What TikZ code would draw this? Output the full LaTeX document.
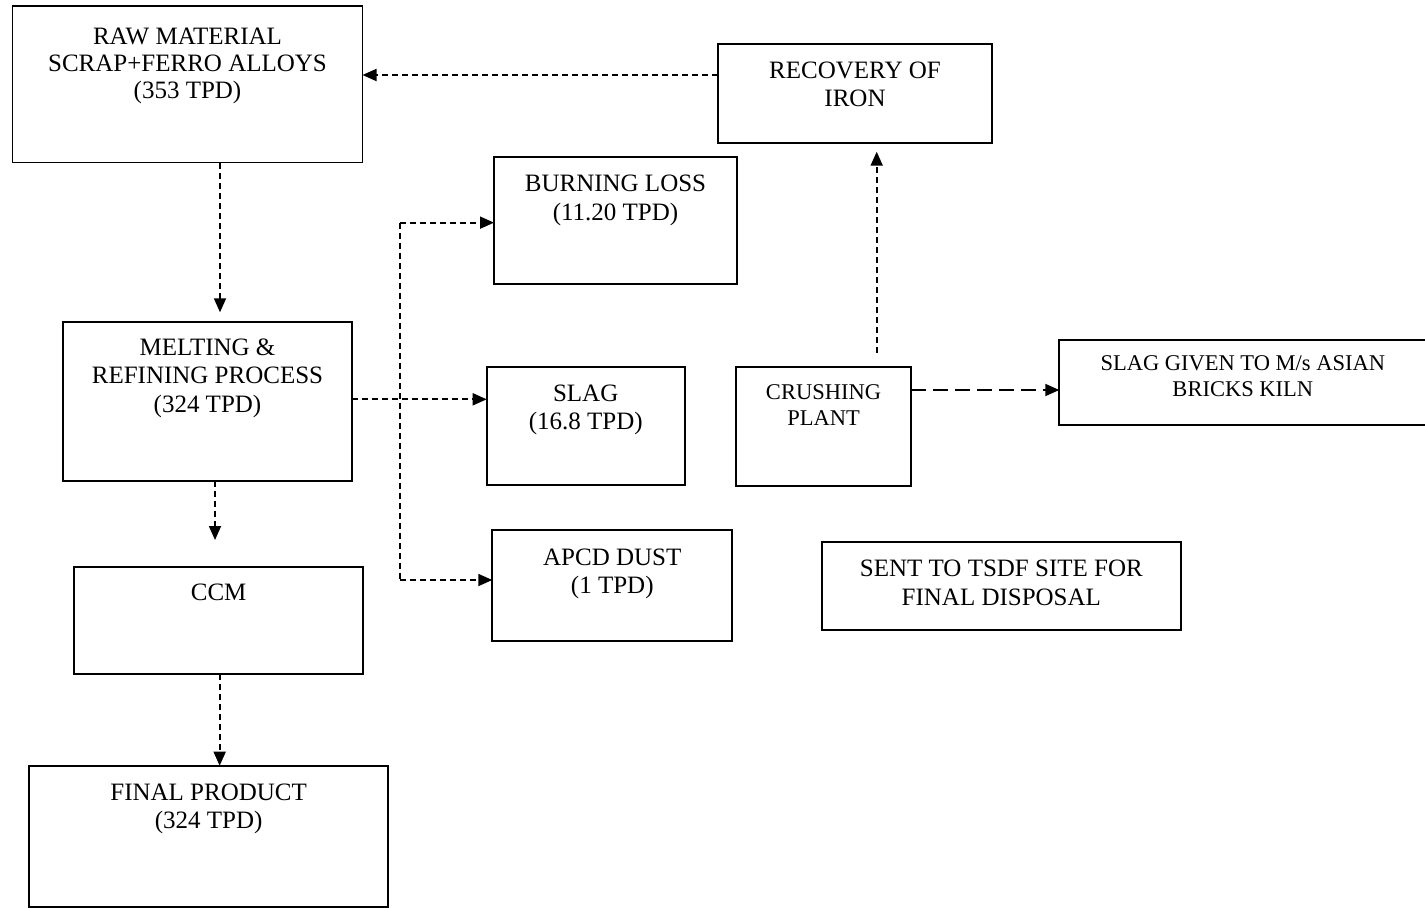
\documentclass[tikz,border=0pt]{standalone}
\usepackage{fontspec}
\setmainfont{Liberation Serif}
\usetikzlibrary{arrows.meta,calc}
\tikzset{
  box/.style={draw=black, line width=1.9pt, rectangle, inner sep=0pt, outer sep=0pt, anchor=north west},
  txt/.style={align=center, inner sep=0pt, anchor=base, font=\fontsize{25}{28.5}\selectfont},
  txtsm/.style={align=center, inner sep=0pt, anchor=base, font=\fontsize{22.5}{26}\selectfont},
  sd/.style={line width=1.8pt, dash pattern=on 6pt off 4pt},
  ld/.style={line width=1.8pt, dash pattern=on 15pt off 7pt},
  arr/.style={-{Triangle[length=14pt,width=12pt]}}
}
\begin{document}
\begin{tikzpicture}[x=1pt,y=-1pt]
\useasboundingbox (0,0) rectangle (1425,908);
% boxes
\node[box, minimum width=350pt, minimum height=156.5pt] (raw) at (12.5,6) {};
\node[box, minimum width=274.6pt, minimum height=99pt] (rec) at (717.7,44.3) {};
\node[box, minimum width=243pt, minimum height=127.3pt] (burn) at (494,157) {};
\node[box, minimum width=198pt, minimum height=117.7pt] (slag) at (486.7,367.3) {};
\node[box, minimum width=240pt, minimum height=111pt] (apcd) at (492.3,530) {};
\node[box, minimum width=289.6pt, minimum height=159pt] (melt) at (62.7,322) {};
\node[box, minimum width=289.3pt, minimum height=107.6pt] (ccm) at (74,566.7) {};
\node[box, minimum width=359.3pt, minimum height=141.5pt] (final) at (29,765.7) {};
\node[box, minimum width=175pt, minimum height=118.4pt] (crush) at (736,367.3) {};
\node[box, minimum width=367pt, minimum height=85pt] (give) at (1059.3,340) {};
\node[box, minimum width=359.3pt, minimum height=87.7pt] (sent) at (821.7,542.3) {};
% texts (base anchor = baseline of the last line)
\node[txt, font=\fontsize{25}{27}\selectfont] (rawt) at ([yshift=-92.5pt]raw.north) {RAW MATERIAL\\SCRAP+FERRO ALLOYS\\(353 TPD)};
\node[txt] (rect) at ([yshift=-62.2pt]rec.north) {RECOVERY OF\\IRON};
\node[txt] (burnt) at ([yshift=-63pt]burn.north) {BURNING LOSS\\(11.20 TPD)};
\node[txt] (slagt) at ([yshift=-62.2pt]slag.north) {SLAG\\(16.8 TPD)};
\node[txt] (apcdt) at ([yshift=-63.5pt]apcd.north) {APCD DUST\\(1 TPD)};
\node[txt] (meltt) at ([yshift=-90pt]melt.north) {MELTING \&\\REFINING PROCESS\\(324 TPD)};
\node[txt] (ccmt) at ([yshift=-33.3pt]ccm.north) {CCM};
\node[txt] (finalt) at ([yshift=-62.8pt]final.north) {FINAL PRODUCT\\(324 TPD)};
\node[txtsm] (crusht) at ([yshift=-57.7pt]crush.north) {CRUSHING\\PLANT};
\node[txtsm] (givet) at ([yshift=-56.8pt]give.north) {SLAG GIVEN TO M/s ASIAN\\BRICKS KILN};
\node[txt] (sentt) at ([yshift=-62.7pt]sent.north) {SENT TO TSDF SITE FOR\\FINAL DISPOSAL};
% connectors
\coordinate (recout) at ([yshift=18.8pt]rec.west);
\draw[sd,arr] (recout) -- (recout -| raw.east);
\coordinate (rawout) at ([xshift=32.5pt]raw.south);
\draw[sd,arr,shorten >=9.7pt] (rawout) -- (rawout |- melt.north);
\coordinate (meltout) at ([yshift=2.2pt]melt.east);
\draw[sd,arr] (meltout) -- (meltout -| slag.west);
\coordinate (bt) at ([xshift=-94pt,yshift=-2pt]burn.west);
\coordinate (bb) at ([yshift=5.5pt]apcd.west -| bt);
\draw[sd] (bt) -- (bb);
\draw[sd,arr] (bt) -- (bt -| burn.west);
\draw[sd,arr] (bb) -- (bb -| apcd.west);
\coordinate (meltdown) at ([xshift=7.5pt]melt.south);
\draw[sd,arr,shorten >=26.7pt] (meltdown) -- (meltdown |- ccm.north);
\coordinate (ccmout) at ([xshift=1pt]ccm.south);
\draw[sd,arr] (ccmout) -- (ccmout |- final.north);
\coordinate (crushup) at ([xshift=53.2pt]crush.north);
\draw[sd,arr,shorten <=14.6pt,shorten >=8.4pt] (crushup) -- (crushup |- rec.south);
\coordinate (crushout) at ([yshift=36.5pt]crush.east);
\draw[ld,arr] (crushout) -- (crushout -| give.west);
\end{tikzpicture}
\end{document}
